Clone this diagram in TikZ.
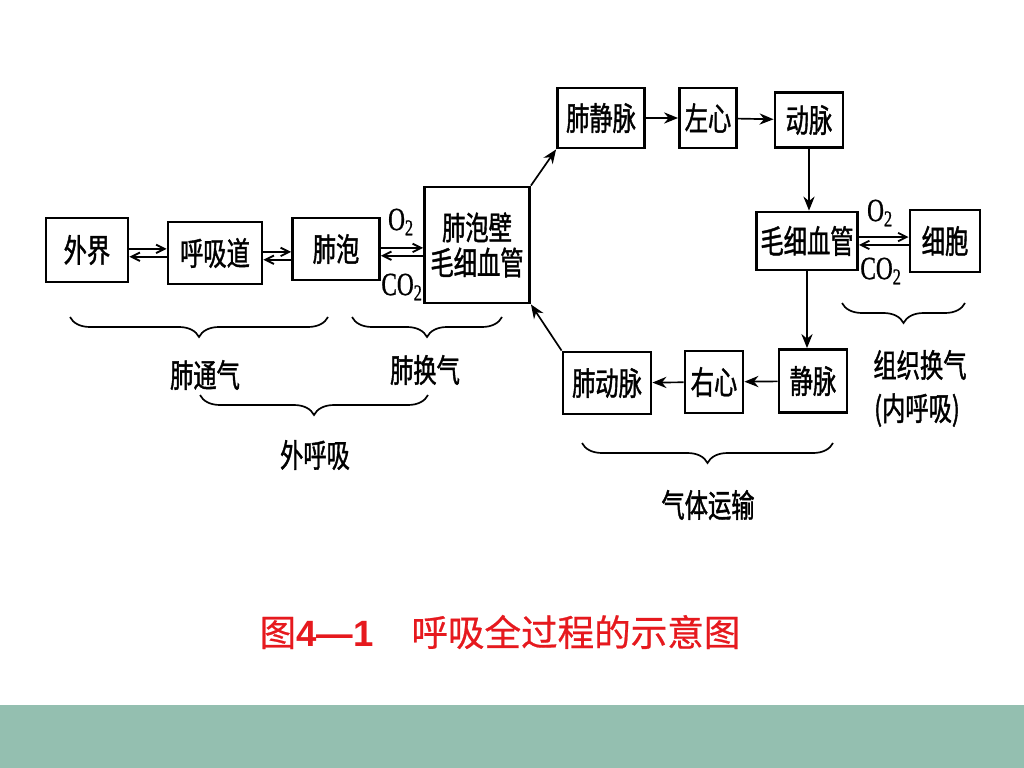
\documentclass[tikz,border=0pt]{standalone}
\usepackage{fontspec}
\newfontfamily\cjk[FakeStretch=0.72, FakeBold=1.2]{Noto Sans CJK SC}
\newfontfamily\cjkcap[FakeBold=0.6]{Noto Sans CJK SC}
\newfontfamily\capnum{Liberation Sans}
\newfontfamily\gasfont[FakeStretch=0.72, FakeBold=0.8]{Liberation Serif}
\usetikzlibrary{arrows.meta,decorations.pathreplacing}
\definecolor{capred}{RGB}{230,25,30}
\definecolor{band}{RGB}{148,191,176}
\tikzset{
	box/.style={draw, line width=2pt, inner sep=0pt, font=\cjk\fontsize{23}{25}\selectfont},
	lbl/.style={inner sep=0pt, font=\cjk\fontsize{23}{25}\selectfont},
	gas/.style={inner sep=0pt, font=\gasfont\fontsize{23}{23}\selectfont},
	arr/.style={line width=1.2pt, -{Stealth[length=10pt,width=8pt]}},
	dbl/.style={line width=1.3pt, -{Straight Barb[length=6pt,width=6pt]}},
	curly/.style={line width=1.2pt, decorate, decoration={brace, mirror, amplitude=0.5cm, aspect=0.5}}
}
\begin{document}
\begin{tikzpicture}[x=0.025cm, y=-0.025cm]
			\useasboundingbox (0,0) rectangle (1024,768);
			\fill[white] (0,0) rectangle (1024,768);
			\fill[band] (0,705) rectangle (1024,768);
			
			%outer respiration
			\node[box, minimum width=2.05cm, minimum height=1.6cm] (waijie) at (87,250) {外界};
			\node[box, minimum width=2.35cm, minimum height=1.55cm] (huxidao) at (215,253) {呼吸道};
			\node[box, minimum width=2.175cm, minimum height=1.55cm] (feipao) at (336,249) {肺泡};
			\node[box, minimum width=2.625cm, minimum height=2.9cm, align=center] (bi) at (477,245) {肺泡壁\\毛细血管};
			
			%blood circuit
			\node[box, minimum width=2.175cm, minimum height=1.5cm] (feijingmai) at (601,118) {肺静脉};
			\node[box, minimum width=1.425cm, minimum height=1.5cm] (zuoxin) at (708,118) {左心};
			\node[box, minimum width=1.7cm, minimum height=1.375cm] (dongmai) at (809,120) {动脉};
			\node[box, minimum width=2.525cm, minimum height=1.45cm] (maoxi) at (807,241) {毛细血管};
			\node[box, minimum width=1.75cm, minimum height=1.55cm] (xibao) at (945,241) {细胞};
			\node[box, minimum width=1.7cm, minimum height=1.575cm] (jingmai) at (813,381) {静脉};
			\node[box, minimum width=1.45cm, minimum height=1.55cm] (youxin) at (714,382) {右心};
			\node[box, minimum width=2.2cm, minimum height=1.55cm] (feidongmai) at (607,383) {肺动脉};
			
			\foreach \a/\b/\d in {waijie/huxidao/-2, huxidao/feipao/-2, feipao/bi/-2, maoxi/xibao/0}{
				\draw[dbl] ([yshift=\d pt+2.8pt]\a.east) -- ([yshift=\d pt+2.8pt]\a.east -| \b.west);
				\draw[dbl] ([yshift=\d pt-2.8pt]\a.east -| \b.west) -- ([yshift=\d pt-2.8pt]\a.east);
			}
			\node[gas] (otwo) at (401,222) {O\textsubscript{2}};
			\node[gas] (cotwo) at (402,287) {CO\textsubscript{2}};
			\node[gas] (otwor) at (880,213) {O\textsubscript{2}};
			\node[gas] (cotwor) at (881,271) {CO\textsubscript{2}};
			
			\draw[arr] (bi.north east) -- (feijingmai.south west);
			\foreach \a/\b in {feijingmai/zuoxin, zuoxin/dongmai, jingmai/youxin, youxin/feidongmai}{
				\draw[arr] (\a) -- (\b);
			}
			\draw[arr] (dongmai.south) -- (dongmai.south |- maoxi.north);
			\draw[arr] (maoxi.south) -- (maoxi.south |- jingmai.north);
			\draw[arr] (feidongmai.north west) -- (bi.south east);
			
			%braces
			\foreach \xa/\xb/\y in {70/328/317, 352/502/317, 200/428/395, 842/965/303, 582/833/443}{
				\draw[curly] (\xa,\y) -- (\xb,\y);
			}
			\node[lbl] (tongqi) at (205,375) {肺通气};
			\node[lbl] (huanqi) at (425,370) {肺换气};
			\node[lbl] (waihuxi) at (315,455) {外呼吸};
			\node[lbl] (zuzhi) at (920,365) {组织换气};
			\node[lbl] (neihuxi) at (917,410) {(内呼吸)};
			\node[lbl] (yunshu) at (708,505) {气体运输};
			
			\node[inner sep=0pt, text=capred, font=\cjkcap\fontsize{26}{28}\selectfont] (title) at (500,632) {图{\capnum\bfseries 4—1}\hspace{0.95cm}呼吸全过程的示意图};
		\end{tikzpicture}
\end{document}
